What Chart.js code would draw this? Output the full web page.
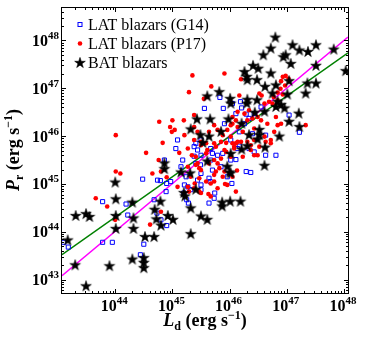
<!DOCTYPE html>
<html><head><meta charset="utf-8">
<script src="https://cdn.jsdelivr.net/npm/chart.js@4.4.1/dist/chart.umd.min.js"></script>
<style>html,body{margin:0;padding:0;background:#fff;}canvas{display:block;}</style>
</head><body>
<canvas id="c" width="367" height="339"></canvas>
<script>
// ---- data: log10 values ----
const g14LogLd = [43.10,43.18,43.78,43.95,43.78,44.19,44.22,44.44,44.50,44.68,44.80,44.90,44.48,44.79,44.90,44.97,45.06,45.09,44.86,45.21,45.27,45.20,44.89,45.32,45.50,45.25,45.28,45.64,45.73,45.74,45.50,45.66,45.64,45.49,45.41,45.38,45.79,45.88,46.02,46.11,46.29,46.37,46.04,46.63,46.81,46.17,46.34,46.43,45.44,45.67,45.70,45.41,45.50,45.56,45.89,45.83,46.05,46.19,46.21,46.11,46.29,46.34,46.43,47.04,47.22,46.63,46.14,45.44,45.50,45.24,44.74,45.67,45.70,45.38,45.50,45.85,45.96,46.17,46.02,45.91,46.55,46.26,46.40,45.18,45.15,44.73];
const g14LogPr = [43.78,43.68,43.78,43.78,44.63,44.58,44.35,43.52,43.74,44.67,44.25,44.13,45.10,45.07,45.01,45.05,45.74,45.92,45.50,44.98,44.94,44.81,44.84,44.88,44.88,44.67,44.60,44.60,44.70,44.81,45.22,45.05,45.12,45.40,45.43,45.58,45.60,45.64,45.50,45.51,45.26,45.24,45.01,45.60,45.60,45.79,45.74,45.67,45.71,45.74,45.64,45.85,45.92,46.58,46.58,46.81,46.68,46.72,46.59,46.47,46.46,46.37,46.47,46.44,46.08,46.02,45.74,45.08,44.98,45.15,45.08,45.50,45.29,45.78,45.60,45.36,45.15,46.09,45.92,46.26,46.61,46.26,46.05,45.50,45.36,44.39];

const p17LogLd = [43.66,43.86,44.00,44.01,44.01,44.09,44.54,44.65,44.76,44.80,44.90,44.61,44.80,44.77,44.83,44.96,44.99,45.04,45.00,45.20,45.21,45.12,45.35,45.29,45.91,45.68,45.55,45.60,46.20,45.38,45.50,45.59,45.34,45.41,45.73,45.85,45.94,45.44,45.47,45.79,45.82,45.76,45.73,45.88,45.67,45.73,46.13,45.92,45.39,45.29,45.09,45.63,45.67,45.47,45.38,45.44,45.64,45.73,45.79,45.88,45.96,46.02,46.05,46.14,46.11,45.27,45.61,45.94,46.08,45.38,45.76,45.91,46.11,45.50,45.59,45.27,45.41,45.50,45.64,45.73,45.85,46.02,45.32,45.47,45.59,45.91,46.05,45.27,45.38,45.50,45.79,45.96,46.11,46.93,46.98,47.03,46.90,46.97,46.89,46.84,46.93,46.77,46.84,46.69,46.75,46.17,46.52,46.56,46.61,46.05,46.14,46.02,46.20,46.08,46.37,46.43,46.61,46.72,46.66,46.84,46.90,47.33,46.78,46.31,46.52,46.37,46.43,46.49,46.63,46.72,46.14,46.05,46.31,46.40,46.26,46.34,46.23,46.43,46.55,46.23,46.81,46.49];
const p17LogPr = [44.70,44.53,44.25,46.02,45.26,45.22,45.65,45.22,45.50,45.26,45.14,44.15,44.42,46.30,45.86,46.19,46.09,46.13,46.33,46.33,46.02,45.65,47.27,46.92,47.31,47.04,46.78,46.82,47.19,45.92,45.88,45.85,45.60,45.57,45.85,45.88,45.86,45.43,45.33,45.43,45.33,45.26,45.19,45.15,45.01,45.05,45.28,45.00,45.01,44.84,44.94,44.79,44.74,44.84,46.19,46.09,46.09,46.23,46.13,46.02,46.13,46.23,46.40,46.51,46.33,45.74,45.71,45.67,45.74,46.44,45.78,45.71,45.85,45.81,45.64,45.36,45.40,45.29,45.43,45.50,45.53,45.57,45.15,45.12,45.05,45.26,45.15,44.94,44.91,44.81,44.91,44.98,44.84,47.24,47.26,47.20,47.15,47.06,46.99,46.91,46.87,46.82,46.75,46.72,46.68,46.85,46.89,46.85,46.68,46.26,46.19,45.99,45.88,45.78,45.81,45.92,45.99,45.92,46.26,46.23,46.26,46.23,46.09,45.88,45.78,45.71,45.60,45.60,45.88,45.85,45.88,45.85,46.33,46.37,46.47,46.54,46.09,46.16,46.33,45.57,46.40,46.40];

const batLogLd = [43.17,43.31,43.49,43.55,43.30,43.49,43.90,44.00,44.01,44.01,44.01,44.30,44.32,44.32,44.30,44.50,44.50,44.50,44.52,44.68,44.69,44.72,44.79,44.80,44.86,44.86,44.92,45.01,45.15,45.20,45.22,45.31,45.32,45.32,45.41,45.50,45.61,45.32,45.43,45.49,45.53,45.61,45.66,45.61,45.64,45.85,45.82,45.87,45.87,45.98,46.01,46.02,45.96,46.00,46.02,46.02,46.01,46.19,46.21,46.21,46.26,46.30,46.31,46.30,46.31,46.31,46.34,46.41,46.50,46.48,46.48,46.44,46.49,46.52,46.52,46.61,46.61,46.62,46.59,46.72,46.80,46.72,46.62,46.81,46.75,46.84,46.90,46.81,46.96,46.87,46.94,46.98,47.07,47.10,47.22,47.04,47.01,47.21,47.04,47.22,47.37,47.51,47.51,47.36,47.51,47.33,47.82,48.03];
const batLogPr = [43.82,44.33,44.37,44.31,43.30,42.86,43.28,45.03,44.68,44.33,44.06,44.61,44.28,44.06,43.42,43.45,43.35,43.24,43.89,43.89,44.46,44.26,44.63,44.13,45.43,45.31,44.33,44.25,45.24,44.81,44.74,45.22,44.49,43.95,44.88,44.32,44.25,46.14,46.35,46.02,45.86,46.83,46.35,45.47,45.99,46.09,46.92,44.61,44.53,46.35,46.78,46.68,45.36,45.24,45.63,45.22,44.63,44.63,45.72,46.26,47.34,47.24,47.17,46.68,46.76,45.79,46.02,47.47,47.41,47.17,46.75,46.49,45.93,46.13,46.02,46.51,45.38,45.76,47.69,47.83,48.06,47.31,47.03,47.06,46.89,46.72,46.65,46.61,46.58,45.99,47.65,47.69,47.51,47.90,47.79,47.15,46.87,46.47,46.30,46.19,47.76,47.90,47.47,47.10,47.10,46.89,47.81,47.36];

// fitted relations (end points, log10)
const fitLogLd = [43.07, 48.07];
const fitMagentaLogPr = [43.08, 48.07];
const fitGreenLogPr = [43.52, 47.74];

// axes (log10 limits and decade ticks)
const xLogRange = [43.07, 48.07];
const yLogRange = [42.72, 48.70];
const xTickExps = [44, 45, 46, 47, 48];
const yTickExps = [43, 44, 45, 46, 47, 48];
const legendLabels = ['LAT blazars (G14)', 'LAT blazars (P17)', 'BAT blazars'];

const toPts = (lx, ly) => lx.map((v, i) => ({x: Math.pow(10, v), y: Math.pow(10, ly[i])}));

const SERIF = '"Liberation Serif", "Times New Roman", serif';

// filled five-point star marker
const starImg = (() => {
  const R = 5.6, s = 14;
  const c = document.createElement('canvas'); c.width = s; c.height = s;
  const g = c.getContext('2d');
  g.beginPath();
  for (let i = 0; i < 10; i++) {
    const r = i % 2 ? R * 0.382 : R;
    const a = -Math.PI / 2 + i * Math.PI / 5;
    const px = s / 2 + r * Math.cos(a), py = s / 2 + r * Math.sin(a);
    if (i) g.lineTo(px, py); else g.moveTo(px, py);
  }
  g.closePath(); g.fillStyle = '#000'; g.fill();
  g.lineWidth = 0.6; g.strokeStyle = '#000'; g.stroke();
  return c;
})();

function piecesWidth(ctx, pieces) {
  let w = 0;
  for (const p of pieces) { ctx.font = p.font; w += ctx.measureText(p.t).width; }
  return w;
}
function drawPieces(ctx, pieces, x, y) {
  let cx = x;
  for (const p of pieces) {
    ctx.font = p.font;
    ctx.fillText(p.t, cx, y + (p.dy || 0));
    cx += ctx.measureText(p.t).width;
  }
}

const TICK_BIG = 'bold 16px ' + SERIF;
const TICK_SMALL = 'bold 11px ' + SERIF;
const TITLE_BIG = 'bold 18px ' + SERIF;
const TITLE_IT = 'italic bold 18px ' + SERIF;
const TITLE_SMALL = 'bold 12px ' + SERIF;
const LEGEND_FONT = '16px ' + SERIF;

const framePlugin = {
  id: 'frame',
  afterDatasetsDraw(chart) {
    const {ctx, chartArea: a, scales: {x, y}} = chart;
    const L = Math.round(a.left) - 0.5, R = Math.round(a.right) + 0.5;
    const T = Math.round(a.top) + 0.5, B = Math.round(a.bottom) + 0.5;
    ctx.save();
    ctx.strokeStyle = '#000'; ctx.lineWidth = 1;
    ctx.strokeRect(L, T, R - L, B - T);
    // ticks on all four sides, pointing inward
    ctx.beginPath();
    for (let d = Math.floor(xLogRange[0]); d <= Math.ceil(xLogRange[1]); d++) {
      for (let m = 1; m <= 9; m++) {
        const lv = d + Math.log10(m);
        if (lv < xLogRange[0] || lv > xLogRange[1]) continue;
        const px = Math.round(x.getPixelForValue(Math.pow(10, lv))) + 0.5;
        const len = m === 1 ? 4.5 : 2.5;
        ctx.moveTo(px, B); ctx.lineTo(px, B - len);
        ctx.moveTo(px, T); ctx.lineTo(px, T + len);
      }
    }
    for (let d = Math.floor(yLogRange[0]); d <= Math.ceil(yLogRange[1]); d++) {
      for (let m = 1; m <= 9; m++) {
        const lv = d + Math.log10(m);
        if (lv < yLogRange[0] || lv > yLogRange[1]) continue;
        const py = Math.round(y.getPixelForValue(Math.pow(10, lv))) + 0.5;
        const len = m === 1 ? 4.5 : 2.5;
        ctx.moveTo(L, py); ctx.lineTo(L + len, py);
        ctx.moveTo(R, py); ctx.lineTo(R - len, py);
      }
    }
    ctx.stroke();

    // tick labels
    ctx.fillStyle = '#000';
    ctx.textBaseline = 'alphabetic'; ctx.textAlign = 'left';
    for (const e of xTickExps) {
      const px = x.getPixelForValue(Math.pow(10, e));
      const pieces = [{t: '10', font: TICK_BIG}, {t: String(e), font: TICK_SMALL, dy: -7}];
      const w = piecesWidth(ctx, pieces);
      drawPieces(ctx, pieces, px - w / 2 - 1, 311);
    }
    for (const e of yTickExps) {
      const py = y.getPixelForValue(Math.pow(10, e));
      const pieces = [{t: '10', font: TICK_BIG}, {t: String(e), font: TICK_SMALL, dy: -7}];
      const w = piecesWidth(ctx, pieces);
      drawPieces(ctx, pieces, a.left - 3 - w, py + 5.5);
    }

    // axis titles
    const xt = [
      {t: 'L', font: TITLE_IT}, {t: 'd', font: TITLE_SMALL, dy: 4},
      {t: ' (erg s', font: TITLE_BIG}, {t: '\u22121', font: TITLE_SMALL, dy: -7},
      {t: ')', font: TITLE_BIG}
    ];
    const xw = piecesWidth(ctx, xt);
    drawPieces(ctx, xt, (a.left + a.right) / 2 - xw / 2, 326);
    const yt = [
      {t: 'P', font: TITLE_IT}, {t: 'r', font: TITLE_SMALL, dy: 4},
      {t: ' (erg s', font: TITLE_BIG}, {t: '\u22121', font: TITLE_SMALL, dy: -7},
      {t: ')', font: TITLE_BIG}
    ];
    const yw = piecesWidth(ctx, yt);
    ctx.save();
    ctx.translate(19, (a.top + a.bottom) / 2);
    ctx.rotate(-Math.PI / 2);
    drawPieces(ctx, yt, -yw / 2, 0);
    ctx.restore();

    // legend
    const lx = 80, tx = 88, rows = [24.5, 43.5, 63];
    ctx.font = LEGEND_FONT;
    ctx.fillStyle = '#000';
    legendLabels.forEach((lab, i) => ctx.fillText(lab, tx, rows[i] + 5));
    ctx.strokeStyle = '#0000ff'; ctx.lineWidth = 1;
    ctx.strokeRect(lx - 2, rows[0] - 2, 4, 4);
    ctx.fillStyle = '#ff0000';
    ctx.beginPath(); ctx.arc(lx, rows[1], 2.3, 0, Math.PI * 2); ctx.fill();
    ctx.drawImage(starImg, lx - 7, rows[2] - 7);
    ctx.restore();
  }
};

new Chart(document.getElementById('c'), {
  type: 'scatter',
  data: {
    datasets: [
      {label: 'fit magenta', type: 'line', showLine: true, data: toPts(fitLogLd, fitMagentaLogPr),
       borderColor: '#ff00ff', borderWidth: 1.5, pointRadius: 0, fill: false, order: 10, clip: 0},
      {label: 'fit green', type: 'line', showLine: true, data: toPts(fitLogLd, fitGreenLogPr),
       borderColor: '#008000', borderWidth: 1.5, pointRadius: 0, fill: false, order: 9, clip: 0},
      {label: legendLabels[0], data: toPts(g14LogLd, g14LogPr), pointStyle: 'rect', pointRadius: 2.9,
       borderColor: '#0000ff', backgroundColor: 'rgba(0,0,0,0)', borderWidth: 1, order: 3, clip: 0},
      {label: legendLabels[1], data: toPts(p17LogLd, p17LogPr), pointStyle: 'circle', pointRadius: 2.3,
       borderColor: '#ff0000', backgroundColor: '#ff0000', borderWidth: 0, order: 2, clip: 0},
      {label: legendLabels[2], data: toPts(batLogLd, batLogPr), pointStyle: starImg, pointRadius: 6,
       order: 1, clip: 0}
    ]
  },
  options: {
    responsive: false, animation: false, devicePixelRatio: 1, events: [],
    layout: {padding: {left: 0, top: 5, right: 19, bottom: 0}},
    plugins: {legend: {display: false}, tooltip: {enabled: false}},
    scales: {
      x: {type: 'logarithmic', position: 'bottom', bounds: 'data',
          min: Math.pow(10, xLogRange[0]), max: Math.pow(10, xLogRange[1]),
          grid: {display: false}, border: {display: false}, ticks: {display: false},
          afterFit(s) { s.height = 46; }},
      y: {type: 'logarithmic', position: 'left', bounds: 'data',
          min: Math.pow(10, yLogRange[0]), max: Math.pow(10, yLogRange[1]),
          grid: {display: false}, border: {display: false}, ticks: {display: false},
          afterFit(s) { s.width = 62; }}
    }
  },
  plugins: [framePlugin]
});
</script>
</body></html>
